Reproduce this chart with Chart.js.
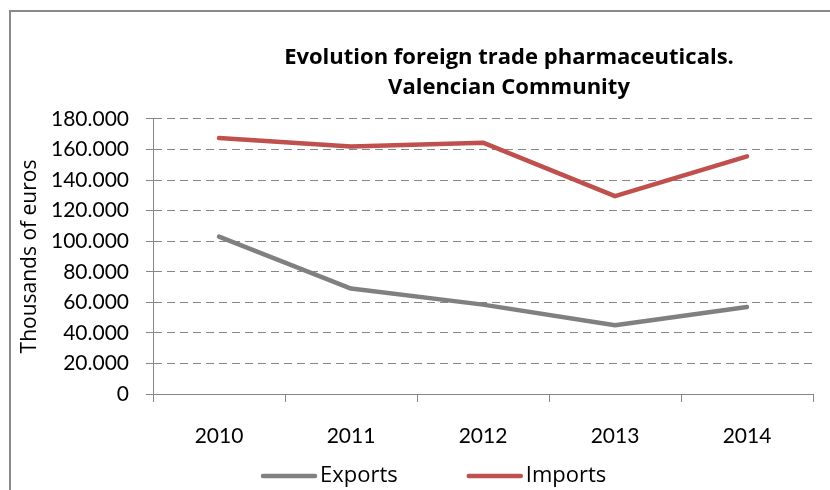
<!DOCTYPE html>
<html>
<head>
<meta charset="utf-8">
<script src="https://cdn.jsdelivr.net/npm/chart.js@4/dist/chart.umd.min.js"></script>
<style>
  html, body { margin: 0; padding: 0; background: #fff; }
  #wrap { width: 830px; height: 490px; }
</style>
</head>
<body>
<div id="wrap"><canvas id="graph" width="830" height="490"></canvas></div>
<script>
// Data (thousands of euros)
const years = ["2010", "2011", "2012", "2013", "2014"];
const exportsK = [103000, 69000, 58500, 45000, 57000];
const importsK = [167500, 162000, 164500, 129500, 155500];
const yTicks = [0, 20000, 40000, 60000, 80000, 100000, 120000, 140000, 160000, 180000];

const TICK_FONT = "Lato, 'Open Sans', sans-serif";
const TEXT_FONT = "'Open Sans', Lato, sans-serif";
const GRID = "#868686";

// dot as thousands separator: 180000 -> "180.000"
function fmt(v) {
  return String(v).replace(/\B(?=(\d{3})+(?!\d))/g, ".");
}

// outer frame of the chart object + title shift + legend drawn under the axis
const framePlugin = {
  id: "frame",
  afterLayout(chart) {
    const t = chart.titleBlock;
    const w = t.right - t.left;
    const cx = 509;
    t.left = cx - w / 2;
    t.right = cx + w / 2;
  },
  beforeDraw(chart) {
    const ctx = chart.ctx;
    ctx.save();
    ctx.strokeStyle = "#8a8a8a";
    ctx.lineWidth = 2;
    ctx.beginPath();
    ctx.moveTo(10, 490);
    ctx.lineTo(10, 11);
    ctx.lineTo(830, 11);
    ctx.stroke();
    ctx.restore();
  },
  afterDraw(chart) {
    const ctx = chart.ctx;
    ctx.save();
    ctx.font = "22px " + TEXT_FONT;
    ctx.textBaseline = "middle";
    ctx.fillStyle = "#000";
    let x = 261;
    const y = 476;
    chart.data.datasets.forEach((ds) => {
      ctx.strokeStyle = ds.borderColor;
      ctx.lineWidth = ds.borderWidth;
      ctx.lineCap = "round";
      ctx.beginPath();
      ctx.moveTo(x + 2, y);
      ctx.lineTo(x + 54, y);
      ctx.stroke();
      ctx.fillText(ds.label, x + 59, y);
      x += 59 + ctx.measureText(ds.label).width + 69;
    });
    ctx.restore();
  },
};

const ctx = document.getElementById("graph").getContext("2d");
new Chart(ctx, {
  type: "line",
  data: {
    labels: years,
    datasets: [
      {
        label: "Exports",
        data: exportsK,
        borderColor: "#808080",
        backgroundColor: "#808080",
        borderWidth: 4.5,
        borderCapStyle: "round",
        borderJoinStyle: "round",
        pointRadius: 0,
        tension: 0,
      },
      {
        label: "Imports",
        data: importsK,
        borderColor: "#C0504D",
        backgroundColor: "#C0504D",
        borderWidth: 4.5,
        borderCapStyle: "round",
        borderJoinStyle: "round",
        pointRadius: 0,
        tension: 0,
      },
    ],
  },
  options: {
    responsive: false,
    animation: false,
    layout: { padding: { left: 0, right: 17, top: 0, bottom: 0 } },
    plugins: {
      legend: { display: false },
      tooltip: { enabled: false },
      title: {
        display: true,
        text: ["Evolution foreign trade pharmaceuticals.", "Valencian Community"],
        color: "#000",
        font: { family: TEXT_FONT, size: 22, weight: "bold", lineHeight: 1.386 },
        padding: { top: 42, bottom: 16 },
      },
    },
    scales: {
      x: {
        offset: true,
        grid: {
          offset: true,
          drawOnChartArea: false,
          color: GRID,
          tickLength: 8,
        },
        border: { color: GRID, width: 1 },
        ticks: {
          color: "#000",
          padding: 22,
          maxRotation: 0,
          font: { family: TICK_FONT, size: 21 },
        },
        afterFit(scale) {
          scale.height = 96;
        },
      },
      y: {
        min: 0,
        max: 180000,
        afterBuildTicks(scale) {
          scale.ticks = yTicks.map((v) => ({ value: v }));
        },
        grid: {
          color: GRID,
          tickLength: 7,
          tickBorderDash: [],
        },
        border: { color: GRID, width: 1, dash: [8, 5] },
        ticks: {
          color: "#000",
          padding: 17,
          font: { family: TICK_FONT, size: 21 },
          callback: (v) => fmt(v),
        },
        title: {
          display: true,
          text: "Thousands of euros",
          color: "#000",
          font: { family: TEXT_FONT, size: 21 },
          padding: { top: 17, bottom: 0 },
        },
        afterFit(scale) {
          scale.width = 153;
        },
      },
    },
  },
  plugins: [framePlugin],
});
</script>
</body>
</html>
